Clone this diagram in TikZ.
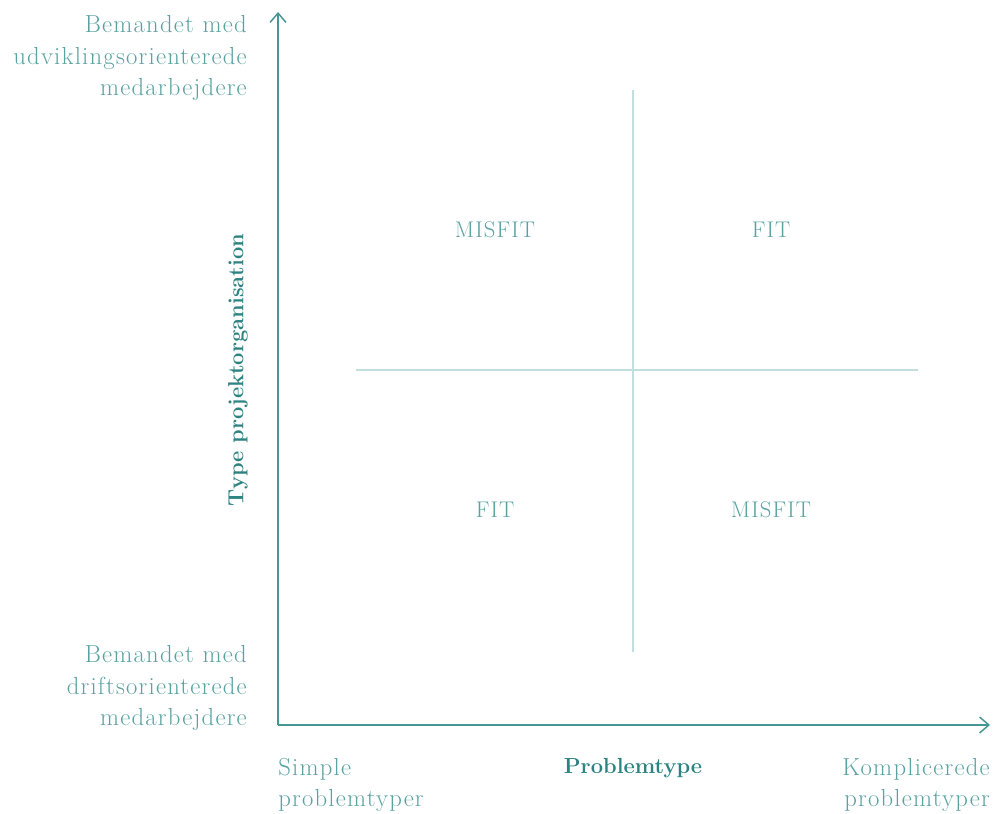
\documentclass[tikz,border=0pt]{standalone}
\usepackage{fontspec}
\usepackage{tikz}
\usetikzlibrary{arrows.meta}
\newfontfamily\trackedrm[LetterSpace=5]{Latin Modern Roman}
\definecolor{AxisTeal}{RGB}{70,150,150}
\definecolor{LabelTeal}{RGB}{90,162,162}
\definecolor{TitleTeal}{RGB}{45,130,130}
\definecolor{GridTeal}{RGB}{195,222,222}

\begin{document}
\begin{tikzpicture}[x=0.75pt, y=-0.75pt,
  axis/.style={draw=AxisTeal, line width=1.1pt, -{Straight Barb[length=7pt, width=12pt]}},
  quadline/.style={draw=GridTeal, line width=0.8pt},
  lbl/.style={text=LabelTeal, font=\trackedrm\fontsize{18.5}{23.8}\selectfont, inner sep=0pt},
  title/.style={text=TitleTeal, font=\fontsize{16.4}{20}\selectfont\bfseries, inner sep=0pt},
  quad/.style={lbl, font=\trackedrm\fontsize{17}{20}\selectfont}]
  \useasboundingbox (0,0) rectangle (998,813);

  % axes
  \coordinate (origin) at (278,725);
  \coordinate (ytop) at (278,12);
  \coordinate (xend) at (990,725);
  \draw[axis] (origin) -- (ytop);
  \draw[axis] (origin) -- (xend);

  % quadrant cross
  \coordinate (vtop) at (633,90);
  \coordinate (vbot) at (633,652);
  \coordinate (hleft) at (356,370);
  \coordinate (hright) at (918,370);
  \draw[quadline] (vtop) -- (vbot);
  \draw[quadline] (hleft) -- (hright);

  \node[quad] (misfitTL) at (495,230) {MISFIT};
  \node[quad] (fitTR) at (771,230) {FIT};
  \node[quad] (fitBL) at (495,510) {FIT};
  \node[quad] (misfitBR) at (771,510) {MISFIT};

  % y axis ends
  \node[lbl, align=right, anchor=east] (ydev) at (247,58)
    {Bemandet med\\udviklingsorienterede\\medarbejdere};
  \node[lbl, align=right, anchor=east] (yops) at (247,688)
    {Bemandet med\\driftsorienterede\\medarbejdere};
  \node[title, rotate=90] (ytitle) at (238,370) {Type projektorganisation};

  % x axis ends
  \node[lbl, align=left, anchor=west] (xsimple) at (278,785)
    {Simple\\problemtyper};
  \node[lbl, align=right, anchor=east] (xcomplex) at (990,785)
    {Komplicerede\\problemtyper};
  \node[title] (xtitle) at (633,768) {Problemtype};
\end{tikzpicture}
\end{document}
